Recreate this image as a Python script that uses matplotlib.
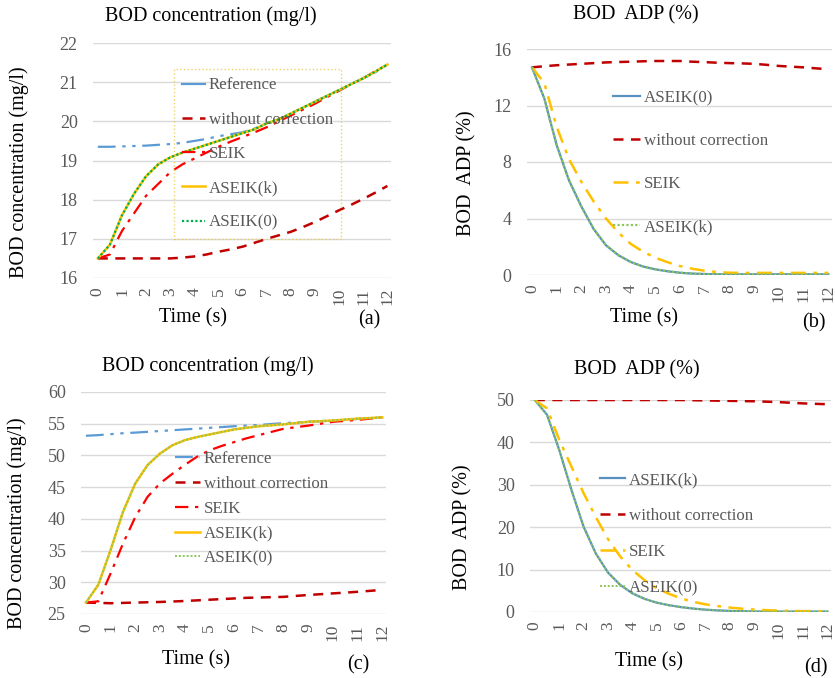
import numpy as np
import matplotlib.pyplot as plt
from matplotlib.lines import Line2D

plt.rcParams['font.family'] = ['Liberation Serif', 'DejaVu Serif']

W, H = 835, 678

# time axis (s)
t = np.arange(0, 12.5, 0.5)

# (a) BOD concentration, case 1
a_ref = [19.35, 19.35, 19.36, 19.37, 19.38, 19.40, 19.42, 19.45, 19.50, 19.55, 19.62, 19.67, 19.72,
         19.82, 19.95, 20.05, 20.2, 20.35, 20.5, 20.65, 20.8, 20.95, 21.1, 21.25, 21.45]
a_noc = [16.5, 16.5, 16.5, 16.5, 16.5, 16.5, 16.5, 16.52, 16.55, 16.6, 16.67, 16.73, 16.8,
         16.9, 17.0, 17.09, 17.18, 17.3, 17.43, 17.58, 17.73, 17.87, 18.02, 18.18, 18.35]
a_seik = [16.5, 16.6, 17.2, 17.65, 18.1, 18.4, 18.7, 18.9, 19.05, 19.2, 19.35, 19.48, 19.6,
          19.72, 19.85, 20.0, 20.15, 20.3, 20.45, 20.62, 20.78, 20.95, 21.1, 21.28, 21.45]
a_aseik_k = [16.5, 16.85, 17.6, 18.15, 18.6, 18.9, 19.08, 19.2, 19.3, 19.4, 19.5, 19.6, 19.7,
             19.8, 19.95, 20.05, 20.2, 20.35, 20.5, 20.65, 20.8, 20.95, 21.1, 21.27, 21.45]
a_aseik_0 = [16.5, 16.85, 17.6, 18.15, 18.6, 18.9, 19.08, 19.2, 19.3, 19.4, 19.5, 19.6, 19.7,
             19.8, 19.95, 20.05, 20.2, 20.35, 20.5, 20.65, 20.8, 20.95, 21.1, 21.27, 21.45]

# (b) BOD ADP, case 1
b_noc = [14.7, 14.78, 14.85, 14.9, 14.95, 15.0, 15.05, 15.08, 15.1, 15.13, 15.15, 15.15, 15.15,
         15.1, 15.07, 15.03, 15.0, 14.98, 14.95, 14.88, 14.8, 14.75, 14.7, 14.63, 14.57]
b_aseik_0 = [14.7, 12.5, 9.2, 6.7, 4.85, 3.25, 2.1, 1.4, 0.92, 0.6, 0.4, 0.26, 0.16,
             0.1, 0.07, 0.05, 0.05, 0.05, 0.05, 0.05, 0.05, 0.05, 0.05, 0.05, 0.05]
b_seik = [14.7, 13.6, 10.5, 8.2, 6.6, 5.2, 4.0, 3.0, 2.2, 1.65, 1.22, 0.9, 0.63,
          0.44, 0.3, 0.21, 0.16, 0.15, 0.15, 0.15, 0.15, 0.15, 0.15, 0.15, 0.15]
b_aseik_k = [14.7, 12.5, 9.2, 6.7, 4.85, 3.25, 2.1, 1.4, 0.92, 0.6, 0.4, 0.26, 0.16,
             0.1, 0.07, 0.05, 0.05, 0.05, 0.05, 0.05, 0.05, 0.05, 0.05, 0.05, 0.05]

# (c) BOD concentration, case 2
c_ref = [53.1, 53.2, 53.35, 53.5, 53.6, 53.72, 53.85, 53.97, 54.1, 54.22, 54.35, 54.47, 54.6,
         54.7, 54.8, 54.95, 55.1, 55.2, 55.3, 55.4, 55.5, 55.6, 55.75, 55.85, 56.0]
c_noc = [26.8, 26.75, 26.7, 26.75, 26.8, 26.85, 26.9, 26.97, 27.05, 27.15, 27.25, 27.35, 27.45,
         27.55, 27.6, 27.65, 27.7, 27.85, 28.0, 28.12, 28.25, 28.37, 28.5, 28.65, 28.8]
c_seik = [26.8, 27.0, 31.4, 36.1, 40.3, 43.5, 45.6, 47.1, 48.5, 49.8, 50.8, 51.5, 52.1,
          52.7, 53.2, 53.7, 54.2, 54.45, 54.7, 55.0, 55.3, 55.45, 55.6, 55.8, 56.0]
c_aseik_k = [26.8, 29.6, 35.1, 41.1, 45.6, 48.5, 50.3, 51.6, 52.4, 52.9, 53.3, 53.7, 54.1,
             54.35, 54.6, 54.75, 54.9, 55.1, 55.3, 55.4, 55.5, 55.65, 55.8, 55.9, 56.0]
c_aseik_0 = [26.8, 29.6, 35.1, 41.1, 45.6, 48.5, 50.3, 51.6, 52.4, 52.9, 53.3, 53.7, 54.1,
             54.35, 54.6, 54.75, 54.9, 55.1, 55.3, 55.4, 55.5, 55.65, 55.8, 55.9, 56.0]

# (d) BOD ADP, case 2
d_noc = [50, 50, 50, 50, 50, 50, 50, 50, 50, 50, 50, 50, 50,
         49.95, 49.9, 49.85, 49.8, 49.75, 49.7, 49.6, 49.5, 49.35, 49.2, 49.1, 49.0]
d_aseik_k = [50, 46.5, 38.2, 28.8, 20.1, 13.8, 9.3, 6.4, 4.4, 3.1, 2.2, 1.6, 1.15,
             0.8, 0.55, 0.38, 0.26, 0.18, 0.13, 0.1, 0.1, 0.1, 0.1, 0.1, 0.1]
d_seik = [50, 48.0, 40.6, 34.3, 28.0, 22.4, 17.2, 13.1, 9.9, 7.5, 5.6, 4.3, 3.2,
          2.4, 1.8, 1.4, 1.05, 0.78, 0.58, 0.43, 0.32, 0.25, 0.2, 0.2, 0.2]
d_aseik_0 = [50, 46.5, 38.2, 28.8, 20.1, 13.8, 9.3, 6.4, 4.4, 3.1, 2.2, 1.6, 1.15,
             0.8, 0.55, 0.38, 0.26, 0.18, 0.13, 0.1, 0.1, 0.1, 0.1, 0.1, 0.1]

xticks = list(range(13))

BLUE = '#5B9BD5'
STEEL = '#5590BE'
DRED = '#C00000'
RED = '#FF0000'
GOLD = '#FFC000'
GREEN = '#00B050'
LGREEN = '#8CC55A'
GRAY = '#595959'

DASH = (0, (4, 3))
DASHDOT = (0, (6, 3, 1.5, 3))
DASHDOTDOT = (0, (8, 3, 1.5, 3, 1.5, 3))
DOT = (0, (1, 1))

FS = 14.5   # titles / axis labels
LFS = 12.2  # legend text

fig = plt.figure(figsize=(W / 100, H / 100), dpi=100)


def make_ax(x0, x1, ytop, ybot, ylim, yticks, xlim=(-0.2, 12.15)):
    ax = fig.add_axes([x0 / W, 1 - ybot / H, (x1 - x0) / W, (ybot - ytop) / H])
    ax.set_xlim(*xlim)
    ax.set_ylim(*ylim)
    ax.set_yticks(yticks)
    ax.set_xticks(xticks)
    ax.set_xticklabels([str(v) for v in xticks], rotation=90)
    for s in ax.spines.values():
        s.set_visible(False)
    ax.grid(axis='y', color='#D9D9D9', lw=1)
    ax.set_axisbelow(True)
    ax.tick_params(length=0, labelcolor=GRAY)
    ax.tick_params(axis='x', labelsize=12.5, pad=7)
    ax.tick_params(axis='y', labelsize=13, pad=11)
    ax.patch.set_alpha(0)
    return ax


def ftext(px, py, s, **kw):
    fig.text(px / W, 1 - py / H, s, ha='center', va='center', **kw)


def leg(ax, handles, labels, px, py, spacing, hlen, **kw):
    return ax.legend(handles, labels, loc='upper left', bbox_to_anchor=(px / W, 1 - py / H),
                     bbox_transform=fig.transFigure, fontsize=LFS, labelcolor=GRAY,
                     labelspacing=spacing, handlelength=hlen, handletextpad=0.2,
                     borderaxespad=0, **kw)


# ---------- (a)
ax = make_ax(93, 391, 43, 278, (16, 22), range(16, 23))
l_ref, = ax.plot(t, a_ref, color=BLUE, lw=1.6, ls=DASHDOTDOT)
l_noc, = ax.plot(t, a_noc, color=DRED, lw=1.8, ls=DASH)
l_seik, = ax.plot(t, a_seik, color=RED, lw=1.6, ls=DASHDOT)
l_k, = ax.plot(t, a_aseik_k, color=GOLD, lw=1.8)
l_0, = ax.plot(t, a_aseik_0, color=GREEN, lw=1.6, ls=DOT)
h_ref = Line2D([], [], color=BLUE, lw=1.6)
L = leg(ax, [h_ref, l_noc, l_seik, l_k, l_0],
        ['Reference', 'without correction', 'SEIK', 'ASEIK(k)', 'ASEIK(0)'],
        174, 69, 1.08, 1.35, frameon=True, borderpad=0.5, fancybox=False)
fr = L.get_frame()
fr.set_facecolor('none')
fr.set_edgecolor('#E8C84A')
fr.set_linestyle(':')
fr.set_linewidth(1)
ftext(211, 16, 'BOD concentration (mg/l)', fontsize=FS)
ftext(19, 172, 'BOD concentration (mg/l)', fontsize=FS, rotation=90)
ftext(193, 318, 'Time (s)', fontsize=FS)
ftext(369, 320, '(a)', fontsize=FS)

# ---------- (b)
ax = make_ax(527, 832, 49, 275, (0, 16), range(0, 17, 4))
ax.plot(t, b_noc, color=DRED, lw=1.8, ls=DASH)
l_0, = ax.plot(t, b_aseik_0, color=STEEL, lw=1.6)
l_seik, = ax.plot(t, b_seik, color=GOLD, lw=1.8, ls=DASHDOT)
l_k, = ax.plot(t, b_aseik_k, color=LGREEN, lw=1.6, ls=DOT)
h_noc = Line2D([], [], color=DRED, lw=1.8, ls=DASH)
leg(ax, [l_0, h_noc, l_seik, l_k], ['ASEIK(0)', 'without correction', 'SEIK', 'ASEIK(k)'],
    613, 90, 1.6, 1.6, frameon=False, borderpad=0)
ftext(636, 15, 'BOD  ADP (%)', fontsize=FS)
ftext(467, 173, 'BOD  ADP (%)', fontsize=FS, rotation=90)
ftext(644, 318, 'Time (s)', fontsize=FS)
ftext(814, 323, '(b)', fontsize=FS)

# ---------- (c)
ax = make_ax(81, 386, 392, 614, (25, 60), range(25, 61, 5))
l_ref, = ax.plot(t, c_ref, color=BLUE, lw=1.6, ls=DASHDOTDOT)
l_noc, = ax.plot(t, c_noc, color=DRED, lw=1.8, ls=DASH)
l_seik, = ax.plot(t, c_seik, color=RED, lw=1.6, ls=DASHDOT)
l_k, = ax.plot(t, c_aseik_k, color=GOLD, lw=1.8)
l_0, = ax.plot(t, c_aseik_0, color=LGREEN, lw=1.4, ls=DOT)
leg(ax, [l_ref, l_noc, l_seik, l_k, l_0],
    ['Reference', 'without correction', 'SEIK', 'ASEIK(k)', 'ASEIK(0)'],
    175, 451, 0.52, 1.5, frameon=False, borderpad=0)
ftext(208, 366, 'BOD concentration (mg/l)', fontsize=FS)
ftext(17, 523, 'BOD concentration (mg/l)', fontsize=FS, rotation=90)
ftext(196, 660, 'Time (s)', fontsize=FS)
ftext(358, 665, '(c)', fontsize=FS)

# ---------- (d)
ax = make_ax(530, 831, 400, 612, (0, 50), range(0, 51, 10))
ax.plot(t, d_noc, color=DRED, lw=1.8, ls=DASH)
l_k, = ax.plot(t, d_aseik_k, color=STEEL, lw=1.6)
l_seik, = ax.plot(t, d_seik, color=GOLD, lw=1.8, ls=DASHDOT)
l_0, = ax.plot(t, d_aseik_0, color=LGREEN, lw=1.4, ls=DOT)
leg(ax, [l_k, h_noc, l_seik, l_0], ['ASEIK(k)', 'without correction', 'SEIK', 'ASEIK(0)'],
    600, 472, 1.18, 1.5, frameon=False, borderpad=0)
ftext(637, 370, 'BOD  ADP (%)', fontsize=FS)
ftext(463, 527, 'BOD  ADP (%)', fontsize=FS, rotation=90)
ftext(649, 662, 'Time (s)', fontsize=FS)
ftext(816, 668, '(d)', fontsize=FS)

fig.savefig('out.png', dpi=100)
